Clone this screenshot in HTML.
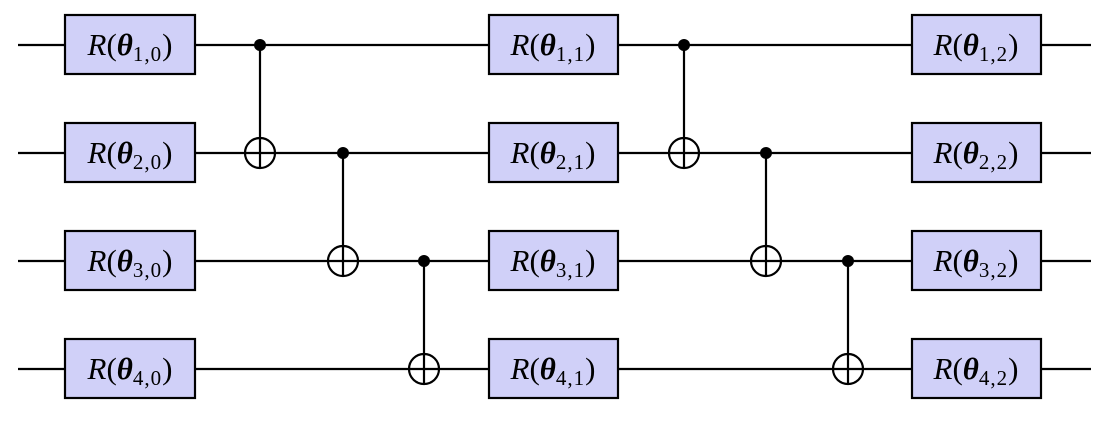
<!DOCTYPE html>
<html><head><meta charset="utf-8"><style>html,body{margin:0;padding:0;background:#fff}svg{display:block}</style></head>
<body>
<svg width="1114" height="424" viewBox="0 0 1114 424" xmlns="http://www.w3.org/2000/svg" font-family="Liberation Serif, serif">
<g stroke="#000" stroke-width="2.2" fill="none">
<line x1="18" y1="45" x2="1091" y2="45"/>
<line x1="18" y1="153" x2="1091" y2="153"/>
<line x1="18" y1="261" x2="1091" y2="261"/>
<line x1="18" y1="369" x2="1091" y2="369"/>
</g>
<g stroke="#000" stroke-width="2.2">
<g fill="#fff">
<line x1="260" y1="45" x2="260" y2="168"/><circle cx="260" cy="153" r="15"/><line x1="245" y1="153" x2="275" y2="153"/><line x1="260" y1="138" x2="260" y2="168"/>
<line x1="343" y1="153" x2="343" y2="276"/><circle cx="343" cy="261" r="15"/><line x1="328" y1="261" x2="358" y2="261"/><line x1="343" y1="246" x2="343" y2="276"/>
<line x1="424" y1="261" x2="424" y2="384"/><circle cx="424" cy="369" r="15"/><line x1="409" y1="369" x2="439" y2="369"/><line x1="424" y1="354" x2="424" y2="384"/>
<line x1="684" y1="45" x2="684" y2="168"/><circle cx="684" cy="153" r="15"/><line x1="669" y1="153" x2="699" y2="153"/><line x1="684" y1="138" x2="684" y2="168"/>
<line x1="766" y1="153" x2="766" y2="276"/><circle cx="766" cy="261" r="15"/><line x1="751" y1="261" x2="781" y2="261"/><line x1="766" y1="246" x2="766" y2="276"/>
<line x1="848" y1="261" x2="848" y2="384"/><circle cx="848" cy="369" r="15"/><line x1="833" y1="369" x2="863" y2="369"/><line x1="848" y1="354" x2="848" y2="384"/>
</g>
<g fill="#000" stroke="none">
<circle cx="260" cy="45" r="6"/><circle cx="343" cy="153" r="6"/><circle cx="424" cy="261" r="6"/>
<circle cx="684" cy="45" r="6"/><circle cx="766" cy="153" r="6"/><circle cx="848" cy="261" r="6"/>
</g>
<g fill="#d0d0f8">
<rect x="65" y="15" width="130" height="59"/><rect x="65" y="123" width="130" height="59"/><rect x="65" y="231" width="130" height="59"/><rect x="65" y="339" width="130" height="59"/>
<rect x="489" y="15" width="129" height="59"/><rect x="489" y="123" width="129" height="59"/><rect x="489" y="231" width="129" height="59"/><rect x="489" y="339" width="129" height="59"/>
<rect x="912" y="15" width="129" height="59"/><rect x="912" y="123" width="129" height="59"/><rect x="912" y="231" width="129" height="59"/><rect x="912" y="339" width="129" height="59"/>
</g>
</g>
<g font-size="31" fill="#000" text-anchor="middle">
<text x="130" y="55"><tspan font-style="italic">R</tspan>(<tspan font-weight="bold" font-style="italic">θ</tspan><tspan font-size="21" dy="6" letter-spacing="1">1,0</tspan><tspan dy="-6">)</tspan></text>
<text x="130" y="163"><tspan font-style="italic">R</tspan>(<tspan font-weight="bold" font-style="italic">θ</tspan><tspan font-size="21" dy="6" letter-spacing="1">2,0</tspan><tspan dy="-6">)</tspan></text>
<text x="130" y="271"><tspan font-style="italic">R</tspan>(<tspan font-weight="bold" font-style="italic">θ</tspan><tspan font-size="21" dy="6" letter-spacing="1">3,0</tspan><tspan dy="-6">)</tspan></text>
<text x="130" y="379"><tspan font-style="italic">R</tspan>(<tspan font-weight="bold" font-style="italic">θ</tspan><tspan font-size="21" dy="6" letter-spacing="1">4,0</tspan><tspan dy="-6">)</tspan></text>
<text x="553" y="55"><tspan font-style="italic">R</tspan>(<tspan font-weight="bold" font-style="italic">θ</tspan><tspan font-size="21" dy="6" letter-spacing="1">1,1</tspan><tspan dy="-6">)</tspan></text>
<text x="553" y="163"><tspan font-style="italic">R</tspan>(<tspan font-weight="bold" font-style="italic">θ</tspan><tspan font-size="21" dy="6" letter-spacing="1">2,1</tspan><tspan dy="-6">)</tspan></text>
<text x="553" y="271"><tspan font-style="italic">R</tspan>(<tspan font-weight="bold" font-style="italic">θ</tspan><tspan font-size="21" dy="6" letter-spacing="1">3,1</tspan><tspan dy="-6">)</tspan></text>
<text x="553" y="379"><tspan font-style="italic">R</tspan>(<tspan font-weight="bold" font-style="italic">θ</tspan><tspan font-size="21" dy="6" letter-spacing="1">4,1</tspan><tspan dy="-6">)</tspan></text>
<text x="976" y="55"><tspan font-style="italic">R</tspan>(<tspan font-weight="bold" font-style="italic">θ</tspan><tspan font-size="21" dy="6" letter-spacing="1">1,2</tspan><tspan dy="-6">)</tspan></text>
<text x="976" y="163"><tspan font-style="italic">R</tspan>(<tspan font-weight="bold" font-style="italic">θ</tspan><tspan font-size="21" dy="6" letter-spacing="1">2,2</tspan><tspan dy="-6">)</tspan></text>
<text x="976" y="271"><tspan font-style="italic">R</tspan>(<tspan font-weight="bold" font-style="italic">θ</tspan><tspan font-size="21" dy="6" letter-spacing="1">3,2</tspan><tspan dy="-6">)</tspan></text>
<text x="976" y="379"><tspan font-style="italic">R</tspan>(<tspan font-weight="bold" font-style="italic">θ</tspan><tspan font-size="21" dy="6" letter-spacing="1">4,2</tspan><tspan dy="-6">)</tspan></text>
</g>
</svg>
</body></html>
